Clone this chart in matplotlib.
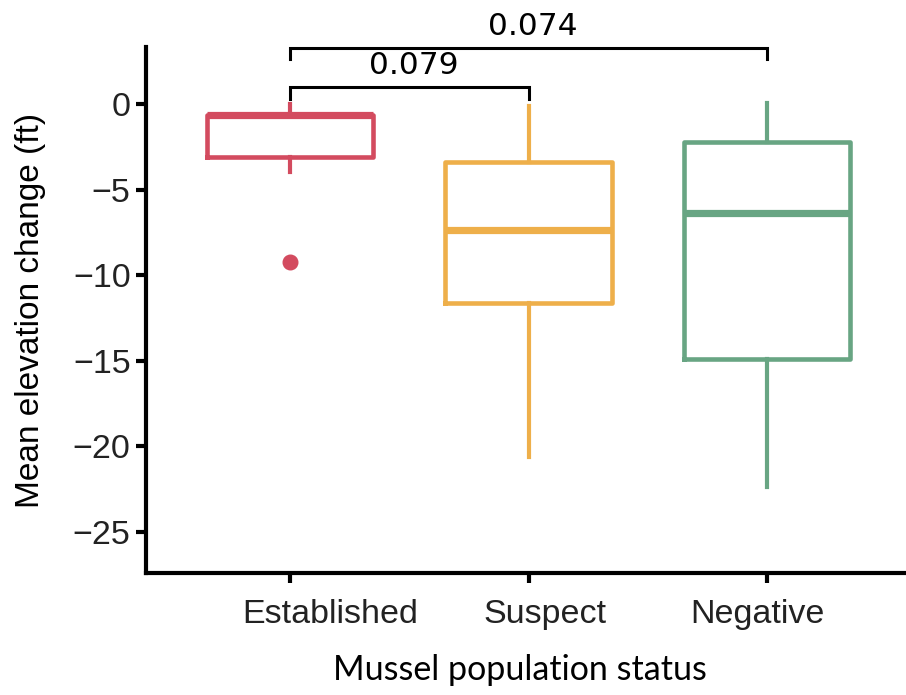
import matplotlib
matplotlib.use("Agg")
import matplotlib.pyplot as plt
import matplotlib.transforms as mtransforms

categories = ["Established", "Suspect", "Negative"]
whisker_low = [-3.96, -20.6, -22.4]
q1_values = [-3.08, -11.6, -14.9]
medians = [-0.62, -7.37, -6.37]
q3_values = [-0.62, -3.39, -2.2]
whisker_high = [0.0, -0.1, 0.05]
outliers = [[-9.22], [], []]
colors = ["#D34B5F", "#EEAF4A", "#68A583"]

comparisons = [(1, 2, "0.079", 1.0), (1, 3, "0.074", 3.3)]

fig = plt.figure(figsize=(9.06, 6.95), dpi=100)
ax = fig.add_axes([146/906, (695-573)/695, 1 - 146/906, (573-47)/695])

positions = [1, 2, 3]
stats = []
for i, c in enumerate(categories):
    stats.append(dict(label=c, whislo=whisker_low[i], q1=q1_values[i], med=medians[i],
                      q3=q3_values[i], whishi=whisker_high[i], fliers=outliers[i]))

for i, s in enumerate(stats):
    col = colors[i]
    ax.bxp([s], positions=[positions[i]], widths=0.7, showcaps=False,
           boxprops=dict(color=col, linewidth=3.3),
           whiskerprops=dict(color=col, linewidth=3.0),
           medianprops=dict(color=col, linewidth=5.2, solid_capstyle='butt'),
           flierprops=dict(marker='o', markerfacecolor=col, markeredgecolor=col, markersize=10.5),
           manage_ticks=False)

# significance brackets
for a, b, txt, yv in comparisons:
    ax.plot([a, a, b, b], [yv - 0.7, yv, yv, yv - 0.7], color="black", lw=2.2,
            solid_joinstyle='miter', clip_on=False)
    ax.text((a + b) / 2 + 0.02, yv + 0.4, txt, ha="center", va="bottom", fontsize=22.5,
            family="DejaVu Sans", color="black", clip_on=False)

ax.set_xlim(0.396, 3.583)
ax.set_ylim(-27.4, 3.33)
ax.set_xticks(positions)
ax.set_xticklabels(categories, family="Liberation Sans", fontsize=24.5, color="#222222")
ax.set_yticks([0, -5, -10, -15, -20, -25])
ax.set_yticklabels(["0", "\u22125", "\u221210", "\u221215", "\u221220", "\u221225"],
                   family="Liberation Sans", fontsize=24.5, color="#222222")
ax.tick_params(axis="both", length=7, width=3)
ax.tick_params(axis="y", pad=4)
ax.tick_params(axis="x", pad=12)
for sp in ["top", "right"]:
    ax.spines[sp].set_visible(False)
for sp in ["left", "bottom"]:
    ax.spines[sp].set_linewidth(3)

# label offsets as placed in the reference figure
label_shift = [0.40, 0.17, -0.10]
for lab, dx in zip(ax.get_xticklabels(), label_shift):
    lab.set_transform(lab.get_transform() + mtransforms.ScaledTranslation(dx, 0, fig.dpi_scale_trans))

ax.set_ylabel("Mean elevation change (ft)", family="Liberation Sans", fontsize=24, labelpad=19)
fig.text(520/906, 1 - 670/695, "Mussel population status", family="Lato", fontsize=24.5,
         ha="center", va="center")

fig.savefig("out.png", dpi=100)
